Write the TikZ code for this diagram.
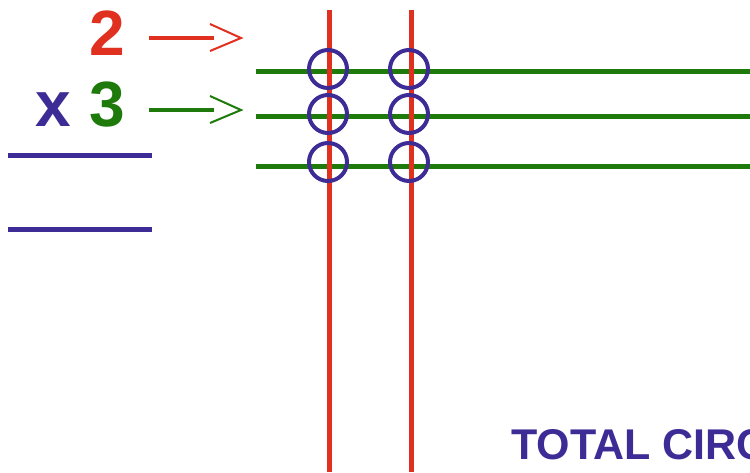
\documentclass[tikz,border=0pt]{standalone}
\usepackage{fontspec}
\setmainfont{Liberation Sans}
\usetikzlibrary{positioning}
\definecolor{cred}{RGB}{224,48,32}
\definecolor{cgreen}{RGB}{30,122,10}
\definecolor{cblue}{RGB}{61,44,150}
\tikzset{
  digit/.style={inner sep=0pt,anchor=base,font=\bfseries\fontsize{64}{70}\selectfont},
  ring/.style={circle,draw=cblue,line width=4pt,minimum size=38pt,inner sep=0pt},
  tick/.style={line width=2pt}
}

\begin{document}
\begin{tikzpicture}[x=1pt,y=-1pt]
\useasboundingbox (0,0) rectangle (750,472);
\clip (0,0) rectangle (750,472);
% factors
\node[digit,text=cred] (two) at (107,55) {2};
\node[digit,text=cblue] (times) at (53,126) {x};
\node[digit,text=cgreen] (three) at (107,126) {3};
% arrows
\coordinate (ra) at (149,38);
\coordinate (rb) at (241,38);
\coordinate (ga) at (149,110);
\coordinate (gb) at (241,110);
\draw[cred,line width=4pt] (ra) -- ++(65,0);
\draw[cred,tick] (210,24) -- (rb) -- (210,51);
\draw[cgreen,line width=4pt] (ga) -- ++(65,0);
\draw[cgreen,tick] (210,96) -- (gb) -- (210,123);
% answer bars
\draw[cblue,line width=5pt] (8,155) -- (152,155);
\draw[cblue,line width=5pt] (8,229) -- (152,229);
% lines
\foreach \y [count=\i] in {71,116,166} {
  \coordinate (h\i) at (256,\y);
  \draw[cgreen,line width=5pt] (h\i) -- (750,\y);
}
\foreach \x [count=\j] in {329,411} {
  \coordinate (v\j) at (\x,10);
  \draw[cred,line width=5pt] (v\j) -- (\x,472);
}
% crossings
\foreach \x [count=\j] in {328,409}
  \foreach \y [count=\i] in {69,114,162}
    \node[ring] (c\j\i) at (\x,\y) {};
\node[anchor=base west,inner sep=0pt,text=cblue,font=\bfseries\fontsize{43}{48}\selectfont] (total) at (511,459) {TOTAL CIRC};
\end{tikzpicture}
\end{document}
